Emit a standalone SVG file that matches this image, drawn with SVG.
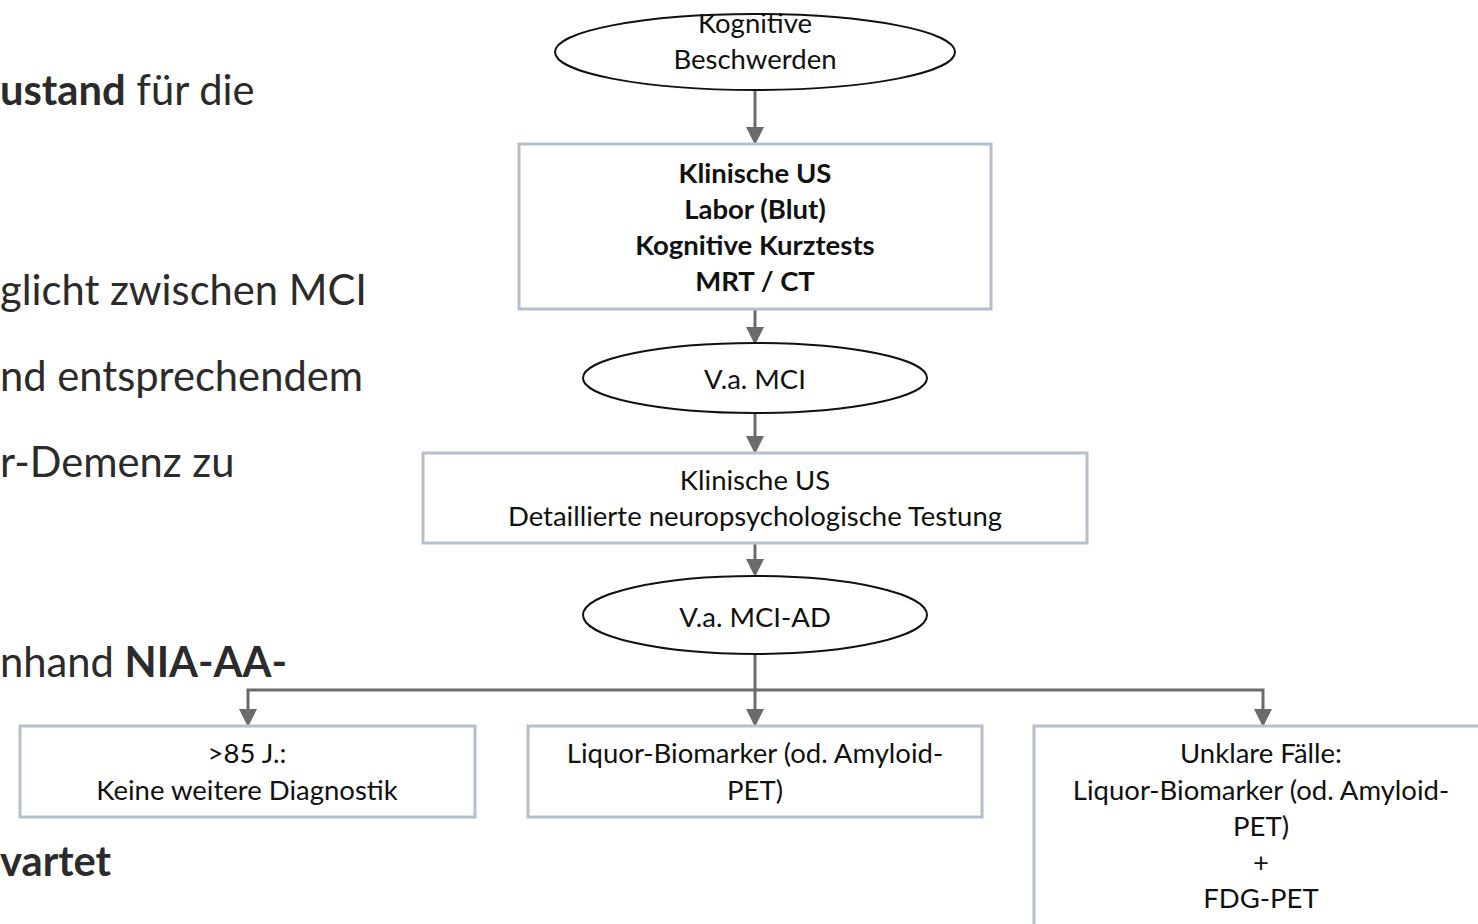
<svg xmlns="http://www.w3.org/2000/svg" width="1478" height="924" viewBox="0 0 1478 924">
<style>
.bg{font-family:Lato,"Open Sans","Liberation Sans",sans-serif;font-size:41.7px;fill:#2b2b2b}
.t{font-family:Lato,"Open Sans","Liberation Sans",sans-serif;font-size:27.5px;fill:#111;text-anchor:middle;dominant-baseline:central}
.b{font-weight:bold}
.box{fill:#fff;stroke:#b4c0cb;stroke-width:3}
.ell{fill:#fff;stroke:#111;stroke-width:2}
.con{fill:none;stroke:#6b6b6b;stroke-width:3}
</style>
<defs>
<marker id="ah" markerWidth="6" markerHeight="6" refX="5" refY="3" orient="auto" markerUnits="strokeWidth">
<path d="M0,0 L6,3 L0,6 Z" fill="#6b6b6b"/>
</marker>
</defs>
<rect width="1478" height="924" fill="#fff"/>
<g id="background-text">
<text class="bg" x="0" y="105"><tspan class="b">ustand</tspan> für die</text>
<text class="bg" x="0" y="305">glicht zwischen MCI</text>
<text class="bg" x="0" y="391">nd entsprechendem</text>
<text class="bg" x="0" y="477">r-Demenz zu</text>
<text class="bg" x="0" y="677">nhand <tspan class="b">NIA-AA-</tspan></text>
<text class="bg b" x="0" y="876">vartet</text>
</g>
<g id="connectors">
<line class="con" x1="755" y1="90" x2="755" y2="142" marker-end="url(#ah)"/>
<line class="con" x1="755" y1="309" x2="755" y2="342" marker-end="url(#ah)"/>
<line class="con" x1="755" y1="413" x2="755" y2="451" marker-end="url(#ah)"/>
<line class="con" x1="755" y1="543" x2="755" y2="574" marker-end="url(#ah)"/>
<line class="con" x1="755" y1="654" x2="755" y2="724" marker-end="url(#ah)"/>
<polyline class="con" points="755,690 248,690 248,724" marker-end="url(#ah)"/>
<polyline class="con" points="755,690 1263,690 1263,724" marker-end="url(#ah)"/>
</g>
<g id="n1">
<ellipse class="ell" cx="755" cy="52" rx="200" ry="38"/>
<text class="t" x="755" y="22">Kognitive</text>
<text class="t" x="755" y="58">Beschwerden</text>
</g>
<g id="n2">
<rect class="box" x="519" y="144" width="472" height="165"/>
<text class="t b" x="755" y="172">Klinische US</text>
<text class="t b" x="755" y="208">Labor (Blut)</text>
<text class="t b" x="755" y="244">Kognitive Kurztests</text>
<text class="t b" x="755" y="280">MRT / CT</text>
</g>
<g id="n3">
<ellipse class="ell" cx="755" cy="378" rx="172" ry="35"/>
<text class="t" x="755" y="378">V.a. MCI</text>
</g>
<g id="n4">
<rect class="box" x="423" y="453" width="664" height="90"/>
<text class="t" x="755" y="479">Klinische US</text>
<text class="t" x="755" y="515">Detaillierte neuropsychologische Testung</text>
</g>
<g id="n5">
<ellipse class="ell" cx="755" cy="615" rx="172" ry="39"/>
<text class="t" x="755" y="616">V.a. MCI-AD</text>
</g>
<g id="n6">
<rect class="box" x="20" y="726" width="455" height="91"/>
<text class="t" x="247" y="752">&gt;85 J.:</text>
<text class="t" x="247" y="789">Keine weitere Diagnostik</text>
</g>
<g id="n7">
<rect class="box" x="528" y="726" width="454" height="91"/>
<text class="t" x="755" y="752">Liquor-Biomarker (od. Amyloid-</text>
<text class="t" x="755" y="789">PET)</text>
</g>
<g id="n8">
<rect class="box" x="1034" y="726" width="460" height="220"/>
<text class="t" x="1261" y="752">Unklare Fälle:</text>
<text class="t" x="1261" y="789">Liquor-Biomarker (od. Amyloid-</text>
<text class="t" x="1261" y="825">PET)</text>
<text class="t" x="1261" y="861">+</text>
<text class="t" x="1261" y="897">FDG-PET</text>
</g>
</svg>
